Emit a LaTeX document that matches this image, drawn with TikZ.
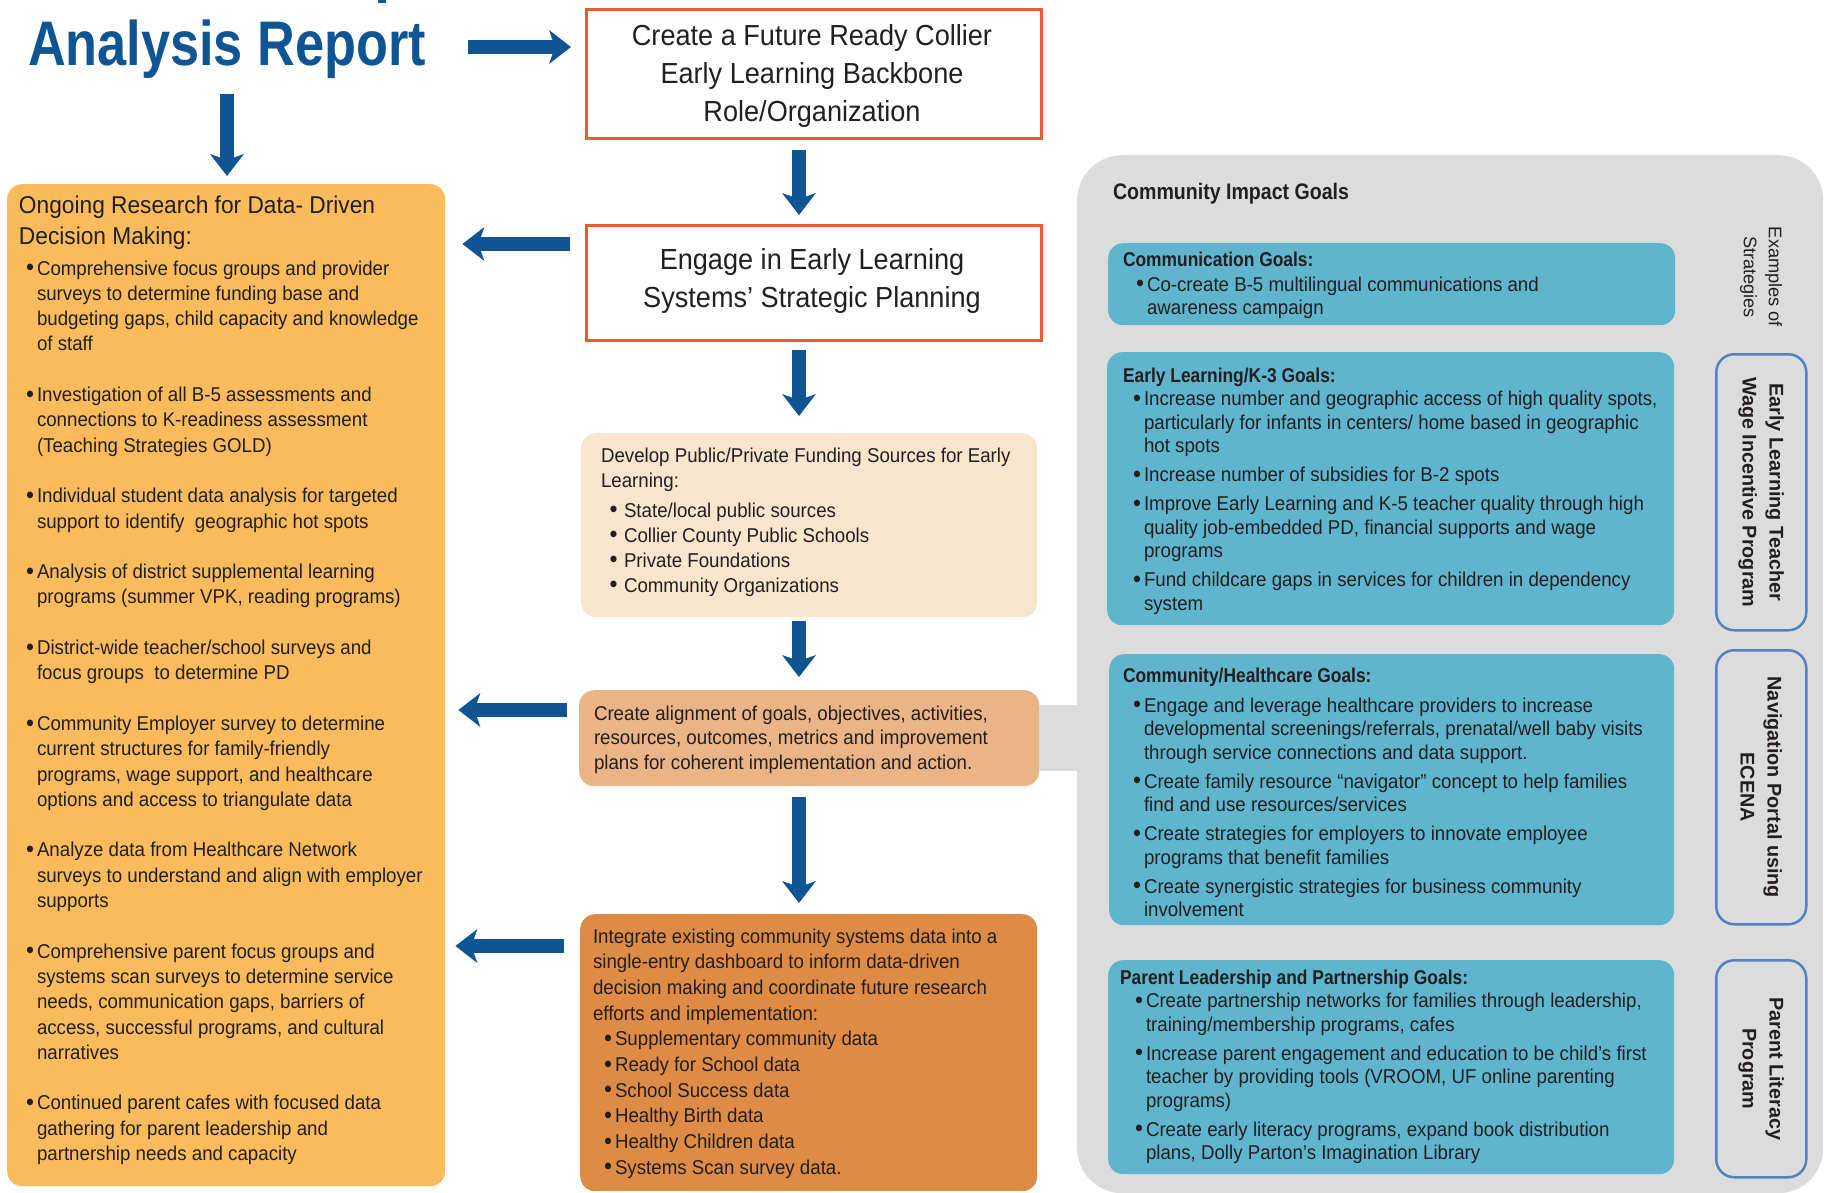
\documentclass[tikz,border=0pt]{standalone}
\usepackage{graphicx}
\usepackage{fontspec}
\setmainfont{Liberation Sans}[FakeStretch=0.935]
\newfontfamily\cbf{Liberation Sans}[FakeStretch=0.87]
\newfontfamily\titlef{Liberation Sans}[FakeStretch=0.83]
\newfontfamily\sidef{Liberation Sans}
\usetikzlibrary{arrows.meta}
\definecolor{dblue}{RGB}{15,85,148}
\definecolor{boxred}{RGB}{238,90,47}
\definecolor{peach}{RGB}{249,228,206}
\definecolor{tan}{RGB}{234,180,134}
\definecolor{orng}{RGB}{222,140,69}
\definecolor{lorange}{RGB}{249,187,91}
\definecolor{pgray}{RGB}{220,220,220}
\definecolor{teal}{RGB}{95,181,206}
\definecolor{sideblue}{RGB}{84,130,190}
\definecolor{tcol}{RGB}{35,31,32}
\newcommand{\tb}[2][640pt]{\parbox[t]{#1}{#2}}
\newcommand{\bdot}{\raisebox{-0.6pt}{\scalebox{1.22}{\textbullet}}}
\newcommand{\bul}{\leavevmode\llap{\bdot\hspace{3pt}}}
\newcommand{\bulw}{\leavevmode\llap{\bdot\hspace{6.5pt}}}
\newcommand{\indx}[1]{\hspace*{#1}}
\tikzset{
  txt/.style={anchor=base west, inner sep=0pt, outer sep=0pt, text=tcol},
  bodytxt/.style={txt, font=\fontsize{20}{25.3}\selectfont},
  bluetxt/.style={txt, font=\fontsize{20}{23.5}\selectfont},
  redbox/.style={draw=boxred, line width=2.5pt, fill=white, anchor=north west, inner sep=0pt},
  roundbox/.style={anchor=north west, inner sep=0pt, rounded corners=15pt},
  bluebox/.style={roundbox, fill=teal},
  sidebox/.style={draw=sideblue, line width=2.5pt, anchor=north west, inner sep=0pt, rounded corners=18pt},
  sidelab/.style={rotate=-90, align=center, inner sep=0pt, text=tcol, font=\sidef\bfseries\fontsize{19.8}{27}\selectfont},
  bigarr/.style={draw=dblue, line width=14pt, -{Stealth[length=22pt, width=34pt, inset=6pt, line width=0pt]}},
}
\begin{document}
\begin{tikzpicture}[x=1pt, y=-1pt]
\useasboundingbox (0,0) rectangle (1826,1192);
% columns / rows for arrows
\coordinate (dcol) at (227,0);
\coordinate (ccol) at (799,0);
\coordinate (r0) at (0,47);
\coordinate (r1) at (0,244);
\coordinate (r2) at (0,710);
\coordinate (r3) at (0,946);

% title
\fill[dblue] (378,0) rectangle (386,3);
\node[txt, text=dblue, font=\titlef\bfseries\fontsize{63}{70}\selectfont] (title) at (28,65) {Analysis Report};

% right panel
\node[anchor=north west, fill=pgray, rounded corners=45pt, minimum width=746pt, minimum height=1038pt, inner sep=0pt] (panel) at (1077,155) {};

% left box
\node[roundbox, fill=lorange, minimum width=438pt, minimum height=1002pt] (left) at (7,184) {};
\node[txt, font=\fontsize{24.3}{31}\selectfont] (lt) at (19,213) {\tb{Ongoing Research for Data- Driven\\Decision Making:}};
\node[bodytxt] (lp1) at (37,275) {\tb{\bul Comprehensive focus groups and provider\\surveys to determine funding base and\\budgeting gaps, child capacity and knowledge\\of staff}};
\node[bodytxt] (lp2) at (37,401.5) {\tb{\bul Investigation of all B-5 assessments and\\connections to K-readiness assessment\\(Teaching Strategies GOLD)}};
\node[bodytxt] (lp3) at (37,502.7) {\tb{\bul Individual student data analysis for targeted\\support to identify~ geographic hot spots}};
\node[bodytxt] (lp4) at (37,578.6) {\tb{\bul Analysis of district supplemental learning\\programs (summer VPK, reading programs)}};
\node[bodytxt] (lp5) at (37,654.5) {\tb{\bul District-wide teacher/school surveys and\\focus groups~ to determine PD}};
\node[bodytxt] (lp6) at (37,730.4) {\tb{\bul Community Employer survey to determine\\current structures for family-friendly\\programs, wage support, and healthcare\\options and access to triangulate data}};
\node[bodytxt] (lp7) at (37,856.9) {\tb{\bul Analyze data from Healthcare Network\\surveys to understand and align with employer\\supports}};
\node[bodytxt] (lp8) at (37,958.1) {\tb{\bul Comprehensive parent focus groups and\\systems scan surveys to determine service\\needs, communication gaps, barriers of\\access, successful programs, and cultural\\narratives}};
\node[bodytxt] (lp9) at (37,1109.9) {\tb{\bul Continued parent cafes with focused data\\gathering for parent leadership and\\partnership needs and capacity}};

% center column
\node[redbox, minimum width=455pt, minimum height=129pt] (box1) at (585,8) {};
\node[txt, anchor=base, font=\fontsize{29}{38}\selectfont] (t1) at (812,45) {\tb[440pt]{\centering Create a Future Ready Collier\\Early Learning Backbone\\Role/Organization}};
\node[redbox, minimum width=455pt, minimum height=115pt] (box2) at (585,224) {};
\node[txt, anchor=base, font=\fontsize{29}{38}\selectfont] (t2) at (812,269) {\tb[440pt]{\centering Engage in Early Learning\\Systems’ Strategic Planning}};
\node[roundbox, fill=peach, minimum width=456pt, minimum height=184pt] (box3) at (581,433) {};
\node[txt, font=\fontsize{20}{25}\selectfont] (t3) at (601,462) {\tb{Develop Public/Private Funding Sources for Early\\Learning:\\[5pt]\indx{23pt}\bulw State/local public sources\\\indx{23pt}\bulw Collier County Public Schools\\\indx{23pt}\bulw Private Foundations\\\indx{23pt}\bulw Community Organizations}};
\node[roundbox, fill=tan, minimum width=460pt, minimum height=96pt] (box4) at (579,690) {};
\node[txt, font=\fontsize{20}{24.5}\selectfont] (t4) at (594,720) {\tb{Create alignment of goals, objectives, activities,\\resources, outcomes, metrics and improvement\\plans for coherent implementation and action.}};
\node[roundbox, fill=orng, minimum width=457pt, minimum height=277pt] (box5) at (580,914) {};
\node[txt, font=\fontsize{20}{25.7}\selectfont] (t5) at (593,943) {\tb{Integrate existing community systems data into a\\single-entry dashboard to inform data-driven\\decision making and coordinate future research\\efforts and implementation:\\\indx{22pt}\bul Supplementary community data\\\indx{22pt}\bul Ready for School data\\\indx{22pt}\bul School Success data\\\indx{22pt}\bul Healthy Birth data\\\indx{22pt}\bul Healthy Children data\\\indx{22pt}\bul Systems Scan survey data.}};

% band from box4 to panel
\draw[pgray, line width=66pt, shorten >=-4pt] (box4.east) -- (box4.east -| panel.west);

% right side content
\node[txt, font=\cbf\bfseries\fontsize{22.5}{27}\selectfont] (cig) at (1113,199) {Community Impact Goals};
\node[sidelab, font=\sidef\fontsize{18.2}{25}\selectfont] (ex) at (1761,277) {Examples of\\Strategies};

\node[bluebox, minimum width=567pt, minimum height=82pt] (b1) at (1108,243) {};
\node[bluetxt] (bt1) at (1123,266) {\tb{{\cbf\bfseries Communication Goals:}\\[1.5pt]\indx{24pt}\bul Co-create B-5 multilingual communications and\\\indx{24pt}awareness campaign}};

\node[bluebox, minimum width=567pt, minimum height=273pt] (b2) at (1107,352) {};
\node[bluetxt] (bt2) at (1123,382) {\tb{{\cbf\bfseries Early Learning/K-3 Goals:}\\\indx{21pt}\bul Increase number and geographic access of high quality spots,\\\indx{21pt}particularly for infants in centers/ home based in geographic\\\indx{21pt}hot spots\\[5.5pt]\indx{21pt}\bul Increase number of subsidies for B-2 spots\\[5.5pt]\indx{21pt}\bul Improve Early Learning and K-5 teacher quality through high\\\indx{21pt}quality job-embedded PD, financial supports and wage\\\indx{21pt}programs\\[5.5pt]\indx{21pt}\bul Fund childcare gaps in services for children in dependency\\\indx{21pt}system}};

\node[bluebox, minimum width=565pt, minimum height=271pt] (b3) at (1109,654) {};
\node[bluetxt] (bt3) at (1123,682) {\tb{{\cbf\bfseries Community/Healthcare Goals:}\\[6.5pt]\indx{21pt}\bul Engage and leverage healthcare providers to increase\\\indx{21pt}developmental screenings/referrals, prenatal/well baby visits\\\indx{21pt}through service connections and data support.\\[5.5pt]\indx{21pt}\bul Create family resource “navigator” concept to help families\\\indx{21pt}find and use resources/services\\[5.5pt]\indx{21pt}\bul Create strategies for employers to innovate employee\\\indx{21pt}programs that benefit families\\[5.5pt]\indx{21pt}\bul Create synergistic strategies for business community\\\indx{21pt}involvement}};

\node[bluebox, minimum width=566pt, minimum height=214pt] (b4) at (1108,960) {};
\node[bluetxt] (bt4) at (1120,984) {\tb{{\cbf\bfseries Parent Leadership and Partnership Goals:}\\\indx{26pt}\bul Create partnership networks for families through leadership,\\\indx{26pt}training/membership programs, cafes\\[5.5pt]\indx{26pt}\bul Increase parent engagement and education to be child’s first\\\indx{26pt}teacher by providing tools (VROOM, UF online parenting\\\indx{26pt}programs)\\[5.5pt]\indx{26pt}\bul Create early literacy programs, expand book distribution\\\indx{26pt}plans, Dolly Parton’s Imagination Library}};

\node[sidebox, minimum width=90pt, minimum height=276pt] (sA) at (1715,353) {};
\node[sidelab] (lA) at (sA.center) {Early Learning Teacher\\Wage Incentive Program};
\node[sidebox, minimum width=90pt, minimum height=274pt] (sB) at (1715,649) {};
\node[sidelab] (lB) at (sB.center) {Navigation Portal using\\ECENA};
\node[sidebox, minimum width=90pt, minimum height=217pt] (sC) at (1715,959) {};
\node[sidelab] (lC) at (sC.center) {Parent Literacy\\Program};

% arrows
\draw[bigarr, shorten <=42pt, shorten >=14pt] (title.east |- r0) -- (box1.west |- r0);
\draw[bigarr, shorten <=16pt, shorten >=8pt] (title.south -| dcol) -- (left.north -| dcol);
\draw[bigarr, shorten <=10pt, shorten >=9pt] (box1.south -| ccol) -- (box2.north -| ccol);
\draw[bigarr, shorten <=8pt, shorten >=17pt] (box2.south -| ccol) -- (box3.north -| ccol);
\draw[bigarr, shorten <=4pt, shorten >=13pt] (box3.south -| ccol) -- (box4.north -| ccol);
\draw[bigarr, shorten <=11pt, shorten >=11pt] (box4.south -| ccol) -- (box5.north -| ccol);
\draw[bigarr, shorten <=15pt, shorten >=17pt] (box2.west |- r1) -- (left.east |- r1);
\draw[bigarr, shorten <=12pt, shorten >=13pt] (box4.west |- r2) -- (left.east |- r2);
\draw[bigarr, shorten <=16pt, shorten >=10pt] (box5.west |- r3) -- (left.east |- r3);
\end{tikzpicture}
\end{document}
